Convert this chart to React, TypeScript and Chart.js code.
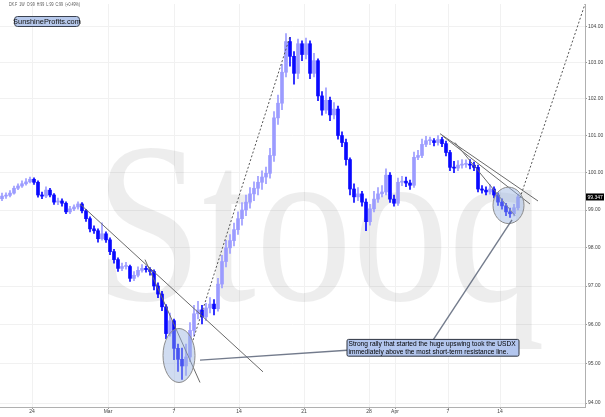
import React, { useEffect, useRef } from 'react';
import { Chart, registerables } from 'chart.js';
Chart.register(...registerables);

// ---- data (4h bars, USDX futures) ----
const firstOpen = 99.3;
const closes = [
  99.37, 99.39, 99.45, 99.58, 99.64, 99.70, 99.75, 99.82, 99.74, 99.40,
  99.37, 99.53, 99.40, 99.21, 99.24, 99.18, 98.95, 99.03, 99.08, 99.16,
  98.98, 98.77, 98.50, 98.45, 98.24, 98.37, 98.21, 97.90, 97.69, 97.46,
  97.51, 97.51, 97.20, 97.28, 97.41, 97.46, 97.43, 97.38, 97.00, 96.79,
  96.46, 95.77, 96.10, 95.39, 95.11, 94.94, 95.17, 95.85, 96.28, 96.38,
  96.20, 96.43, 96.53, 96.41, 97.05, 97.64, 98.00, 98.19, 98.48, 98.77,
  99.00, 99.21, 99.43, 99.58, 99.74, 99.88, 99.98, 100.46, 101.48, 101.88,
  102.73, 103.58, 103.17, 102.70, 103.52, 103.22, 103.52, 102.70, 103.05, 102.08,
  101.69, 101.96, 101.56, 101.72, 101.00, 100.81, 100.35, 99.56, 99.35, 99.43,
  99.21, 98.69, 99.03, 99.29, 99.43, 99.48, 99.93, 99.29, 99.18, 99.74,
  99.77, 99.72, 99.66, 100.41, 100.46, 100.76, 100.86, 100.86, 100.81, 100.89,
  100.78, 100.54, 100.14, 100.12, 100.20, 100.22, 100.22, 100.20, 100.14, 99.56,
  99.53, 99.48, 99.56, 99.40, 99.21, 99.11, 98.95, 98.90, 99.06, 99.347,
];
const highs = [
  99.45, 99.46, 99.52, 99.64, 99.70, 99.78, 99.84, 99.88, 99.86, 99.78,
  99.48, 99.62, 99.58, 99.44, 99.32, 99.30, 99.22, 99.10, 99.14, 99.22,
  99.20, 99.02, 98.82, 98.58, 98.50, 98.66, 98.42, 98.26, 97.96, 97.74,
  97.60, 97.62, 97.55, 97.38, 97.50, 97.56, 97.52, 97.48, 97.42, 97.08,
  96.86, 96.52, 96.30, 96.14, 95.50, 95.40, 95.50, 96.05, 96.50, 96.60,
  96.50, 96.55, 96.70, 96.65, 97.20, 97.80, 98.20, 98.35, 98.65, 98.95,
  99.20, 99.40, 99.60, 99.75, 99.90, 100.05, 100.15, 100.65, 101.65, 102.10,
  102.95, 103.80, 103.70, 103.30, 103.65, 103.60, 103.68, 103.60, 103.25, 103.10,
  102.20, 102.30, 102.05, 101.90, 101.80, 101.10, 100.90, 100.40, 99.70, 99.60,
  99.50, 99.30, 99.15, 99.50, 99.60, 99.65, 100.10, 100.00, 99.40, 99.85,
  99.90, 99.88, 99.80, 100.55, 100.60, 100.90, 100.98, 100.96, 100.92, 101.00,
  100.95, 100.85, 100.60, 100.30, 100.32, 100.35, 100.34, 100.35, 100.28, 100.20,
  99.65, 99.62, 99.68, 99.62, 99.46, 99.30, 99.18, 99.05, 99.15, 99.42,
];
const lows = [
  99.25, 99.31, 99.35, 99.42, 99.54, 99.60, 99.66, 99.72, 99.68, 99.34,
  99.30, 99.33, 99.35, 99.15, 99.14, 99.10, 98.90, 98.90, 98.98, 99.02,
  98.92, 98.70, 98.42, 98.38, 98.15, 98.20, 98.14, 97.82, 97.60, 97.38,
  97.40, 97.44, 97.12, 97.14, 97.24, 97.36, 97.36, 97.28, 96.90, 96.70,
  96.36, 95.64, 95.70, 95.10, 94.80, 94.60, 94.70, 95.05, 95.70, 96.15,
  96.02, 96.10, 96.30, 96.25, 96.35, 96.95, 97.50, 97.85, 98.05, 98.35,
  98.60, 98.85, 99.05, 99.25, 99.40, 99.55, 99.70, 99.85, 100.30, 101.30,
  101.70, 102.60, 102.90, 102.40, 102.55, 103.05, 103.10, 102.55, 102.60, 101.95,
  101.55, 101.60, 101.40, 101.45, 100.90, 100.70, 100.20, 99.40, 99.20, 99.25,
  99.10, 98.45, 98.60, 98.95, 99.20, 99.35, 99.40, 99.20, 99.10, 99.12,
  99.65, 99.62, 99.55, 99.60, 100.35, 100.40, 100.70, 100.75, 100.72, 100.74,
  100.70, 100.45, 100.05, 100.00, 100.05, 100.12, 100.14, 100.10, 100.05, 99.48,
  99.45, 99.40, 99.42, 99.32, 99.12, 99.02, 98.85, 98.80, 98.84, 99.00,
];
const xTickPositions = [7.5, 26.5, 43, 59.25, 75.5, 91.75, 98.25, 111.5, 124.5];
const xTickLabels = ['24', 'Mar', '7', '14', '21', '28', 'Apr', '7', '14'];
const yTicks = [94, 95, 96, 97, 98, 99, 100, 101, 102, 103, 104];

// annotations in data coordinates [bar index, price]
const trendLines = [
  { from: [19.5, 99.16], to: [65.25, 94.79] },
  { from: [35.75, 97.69], to: [49.5, 94.52] },
  { from: [109.5, 101.05], to: [134, 99.24] },
  { from: [110, 101.0], to: [132, 99.16] },
  { from: [113.25, 100.81], to: [128.25, 98.85] },
];
const dottedLines = [
  { from: [47.75, 95.6], to: [72, 103.72] },
  { from: [129.5, 99.32], to: [147, 105.05] },
];
const connectors = [
  { from: [49.5, 95.09], to: [86.25, 95.34] },
  { from: [107.75, 95.6], to: [127.5, 98.74] },
];
const ellipses = [
  { x: [40.25, 48.25], y: [94.52, 95.9] },
  { x: [122.75, 130.5], y: [98.64, 99.61] },
];
const noteBox = { x: [86.25, 129.25], y: [95.19, 95.62] };
const noteLines = [
  'Strong rally that started the huge upswing took the USDX',
  'immediately above the most short-term resistance line.',
];
const titleText = 'DX.F  1W  O:99  H:99  L:99  C:99  (+0.49%)';
const logoText = 'SunshineProfits.com';
const watermark = 'Stooq';

const UP = '#9c9cff';
const DOWN = '#0a0aff';

function roundRect(ctx: CanvasRenderingContext2D, x: number, y: number, w: number, h: number, r: number) {
  ctx.beginPath();
  ctx.moveTo(x + r, y);
  ctx.lineTo(x + w - r, y);
  ctx.quadraticCurveTo(x + w, y, x + w, y + r);
  ctx.lineTo(x + w, y + h - r);
  ctx.quadraticCurveTo(x + w, y + h, x + w - r, y + h);
  ctx.lineTo(x + r, y + h);
  ctx.quadraticCurveTo(x, y + h, x, y + h - r);
  ctx.lineTo(x, y + r);
  ctx.quadraticCurveTo(x, y, x + r, y);
  ctx.closePath();
}

const overlay = {
  id: 'overlay',
  beforeDatasetsDraw(chart: any) {
    const { ctx, chartArea: a } = chart;
    ctx.save();
    ctx.beginPath();
    ctx.rect(a.left, a.top, a.right - a.left, a.bottom - a.top);
    ctx.clip();
    ctx.font = '228px "Liberation Serif", "DejaVu Serif", serif';
    const w = ctx.measureText(watermark).width;
    const sx = 450 / w;
    ctx.translate(95, 300);
    ctx.scale(sx, 1);
    ctx.fillStyle = 'rgba(0,0,0,0.07)';
    ctx.textBaseline = 'alphabetic';
    ctx.fillText(watermark, 0, 0);
    ctx.restore();
  },
  afterDatasetsDraw(chart: any) {
    const { ctx, chartArea: a } = chart;
    const xs = chart.scales.x;
    const ys = chart.scales.y;
    const P = (p: number[]) => [xs.getPixelForValue(p[0]), ys.getPixelForValue(p[1])];
    ctx.save();
    ctx.beginPath();
    ctx.rect(a.left, a.top, a.right - a.left, a.bottom - a.top);
    ctx.clip();

    const seg = (l: any) => {
      const [x1, y1] = P(l.from);
      const [x2, y2] = P(l.to);
      ctx.beginPath();
      ctx.moveTo(x1, y1);
      ctx.lineTo(x2, y2);
      ctx.stroke();
    };
    ctx.lineWidth = 1;
    ctx.strokeStyle = '#6a6a6a';
    trendLines.forEach(seg);
    ctx.setLineDash([2, 2]);
    ctx.strokeStyle = '#555';
    dottedLines.forEach(seg);
    ctx.setLineDash([]);

    ellipses.forEach((e) => {
      const x1 = xs.getPixelForValue(e.x[0]);
      const x2 = xs.getPixelForValue(e.x[1]);
      const y1 = ys.getPixelForValue(e.y[1]);
      const y2 = ys.getPixelForValue(e.y[0]);
      ctx.beginPath();
      ctx.ellipse((x1 + x2) / 2, (y1 + y2) / 2, (x2 - x1) / 2, (y2 - y1) / 2, 0, 0, Math.PI * 2);
      ctx.fillStyle = 'rgba(150,178,225,0.45)';
      ctx.fill();
      ctx.strokeStyle = '#8a8a8a';
      ctx.stroke();
    });

    ctx.lineWidth = 1.4;
    ctx.strokeStyle = 'rgba(90,100,120,0.85)';
    connectors.forEach(seg);

    // note box
    const bx1 = xs.getPixelForValue(noteBox.x[0]);
    const bx2 = xs.getPixelForValue(noteBox.x[1]);
    const by1 = ys.getPixelForValue(noteBox.y[1]);
    const by2 = ys.getPixelForValue(noteBox.y[0]);
    roundRect(ctx, bx1, by1, bx2 - bx1, by2 - by1, 1.5);
    ctx.fillStyle = '#b3c6ee';
    ctx.fill();
    ctx.lineWidth = 1;
    ctx.strokeStyle = '#2e3440';
    ctx.stroke();
    ctx.fillStyle = '#000';
    ctx.font = '6.6px "Liberation Sans", Arial, sans-serif';
    ctx.textBaseline = 'middle';
    const lh = (by2 - by1) / 2;
    noteLines.forEach((t, i) => {
      const tw = ctx.measureText(t).width;
      const maxW = bx2 - bx1 - 3;
      ctx.save();
      ctx.translate(bx1 + 1.5, by1 + lh * (i + 0.5) + 0.3);
      if (tw > maxW) ctx.scale(maxW / tw, 1);
      ctx.fillText(t, 0, 0);
      ctx.restore();
    });
    ctx.restore();
  },
  afterDraw(chart: any) {
    const { ctx, chartArea: a } = chart;
    const ys = chart.scales.y;
    ctx.save();
    // title
    ctx.font = '5px "Liberation Sans", Arial, sans-serif';
    ctx.fillStyle = '#555';
    ctx.textBaseline = 'middle';
    const tw = ctx.measureText(titleText).width;
    ctx.save();
    ctx.translate(9, 5);
    ctx.scale(71 / tw, 1);
    ctx.fillText(titleText, 0, 0);
    ctx.restore();
    // logo
    roundRect(ctx, 14.5, 16.5, 65, 10, 3);
    ctx.fillStyle = '#b7c9ec';
    ctx.fill();
    ctx.strokeStyle = '#3a4250';
    ctx.lineWidth = 1;
    ctx.stroke();
    ctx.fillStyle = '#111';
    ctx.font = '7.4px "Liberation Sans", Arial, sans-serif';
    ctx.textAlign = 'center';
    ctx.fillText(logoText, 47, 21.8);
    // last price label
    const last = closes[closes.length - 1];
    const py = ys.getPixelForValue(last);
    ctx.fillStyle = '#000';
    ctx.fillRect(a.right + 1, py - 3.5, 18, 7);
    ctx.fillStyle = '#fff';
    ctx.font = '5px "Liberation Sans", Arial, sans-serif';
    ctx.textAlign = 'left';
    ctx.fillText(last.toFixed(3), a.right + 2.5, py + 0.3);
    ctx.restore();
  },
};

export default function App() {
  const ref = useRef<HTMLCanvasElement>(null);
  useEffect(() => {
    document.body.style.margin = '0';
    const opens = closes.map((c, i) => (i === 0 ? firstOpen : closes[i - 1]));
    const colors = closes.map((c, i) => (c >= opens[i] ? UP : DOWN));
    const chart = new Chart(ref.current as HTMLCanvasElement, {
      type: 'bar',
      data: {
        datasets: [
          {
            label: 'range',
            data: closes.map((_, i) => ({ x: i, y: [lows[i], highs[i]] })) as any,
            backgroundColor: colors,
            barThickness: 1,
            grouped: false,
          } as any,
          {
            label: 'body',
            data: closes.map((c, i) => ({ x: i, y: [opens[i], c] })) as any,
            backgroundColor: colors,
            barThickness: 3,
            grouped: false,
            minBarLength: 1,
          } as any,
        ],
      },
      options: {
        animation: false,
        responsive: false,
        devicePixelRatio: 1,
        layout: { padding: 0 },
        plugins: { legend: { display: false }, tooltip: { enabled: false } },
        scales: {
          x: {
            type: 'linear',
            offset: false,
            min: -0.5,
            max: 145.75,
            bounds: 'data',
            afterFit(s: any) {
              s.height = 10;
              s.paddingLeft = 0;
              s.paddingRight = 0;
            },
            afterBuildTicks(s: any) {
              s.ticks = xTickPositions.map((v) => ({ value: v }));
            },
            ticks: {
              callback: (_v: any, i: number) => xTickLabels[i],
              font: { size: 5, family: '"Liberation Sans", Arial, sans-serif' },
              color: '#444',
              padding: 0,
              maxRotation: 0,
              autoSkip: false,
            },
            grid: { offset: false, color: '#f1f1f1', tickLength: 2, tickColor: '#999' },
            border: { color: '#b0b0b0' },
          } as any,
          y: {
            type: 'logarithmic',
            position: 'right',
            min: 93.9,
            max: 104.63,
            bounds: 'data',
            afterFit(s: any) {
              s.width = 20;
            },
            afterBuildTicks(s: any) {
              s.ticks = yTicks.map((v) => ({ value: v }));
            },
            ticks: {
              callback: (v: any) => Number(v).toFixed(2),
              font: { size: 5, family: '"Liberation Sans", Arial, sans-serif' },
              color: '#444',
              padding: 1,
              autoSkip: false,
            },
            grid: { color: '#f1f1f1', tickLength: 2, tickColor: '#999' },
            border: { color: '#b0b0b0' },
          } as any,
        },
      },
      plugins: [overlay],
    });
    return () => chart.destroy();
  }, []);
  return <canvas ref={ref} width={605} height={417} style={{ display: 'block' }} />;
}
